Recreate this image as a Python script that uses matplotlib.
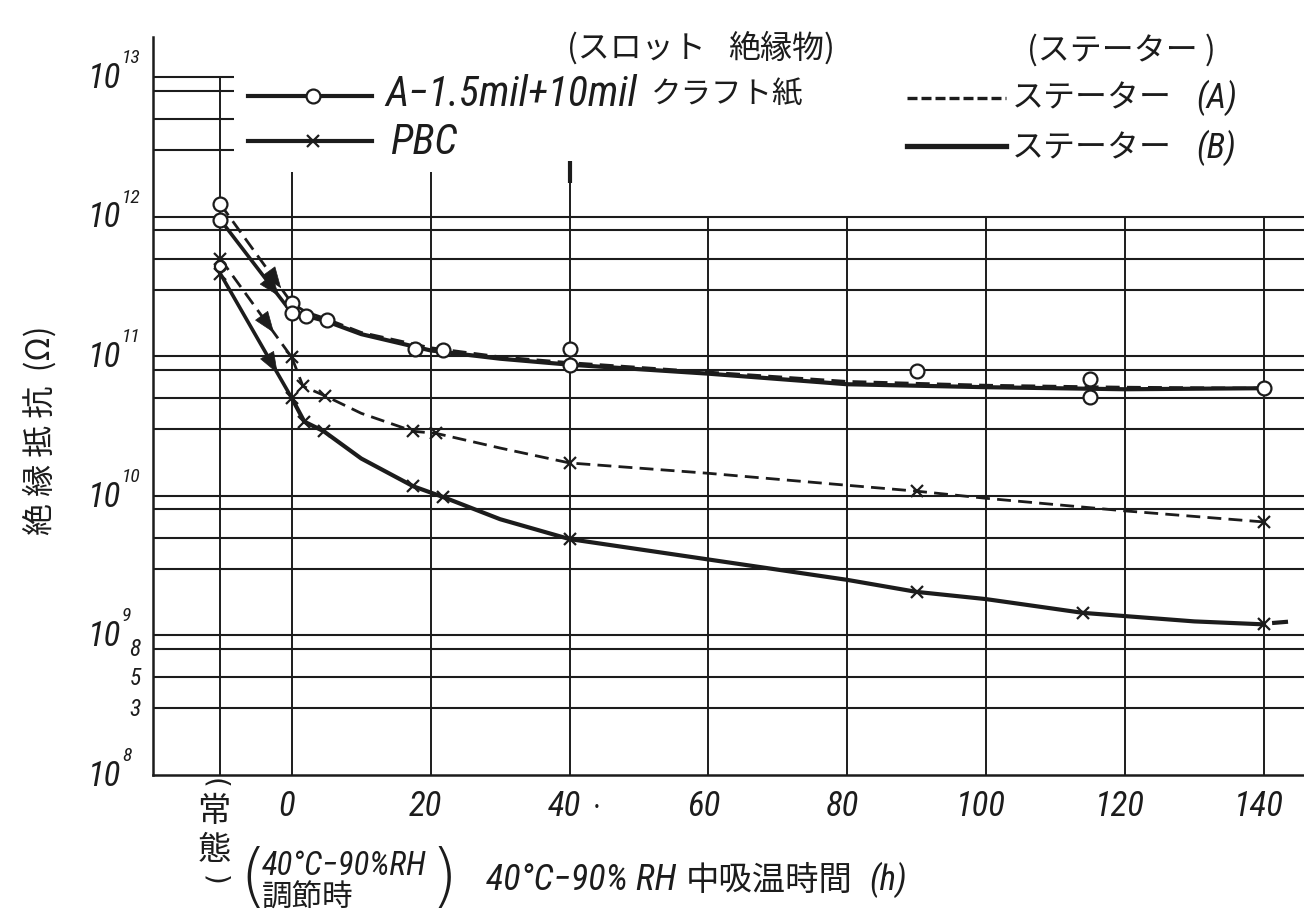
import matplotlib
matplotlib.use('Agg')
import matplotlib.pyplot as plt
from matplotlib.lines import Line2D
from matplotlib.ticker import NullLocator
from matplotlib import font_manager as fm
import numpy as np

# ---------------- data ----------------
# hours axis position of the "常態" (normal state) column
x_normal = -10.3

# A-1.5mil+10mil kraft paper (circles)
normal_circ_A = 1.23e12
normal_circ_B = 9.5e11
normal_circ_extra = 4.4e11

circ_A_h = [0, 5, 21.8, 40, 90, 115]
circ_A_R = [2.4e11, 1.82e11, 1.10e11, 1.12e11, 7.9e10, 6.9e10]
circ_B_h = [0, 2, 17.7, 40, 115, 140]
circ_B_R = [2.04e11, 1.95e11, 1.12e11, 8.7e10, 5.1e10, 5.9e10]

circ_A_curve_h = [0, 2, 5, 10, 20, 30, 40, 60, 80, 100, 120, 140]
circ_A_curve_R = [2.4e11, 2.08e11, 1.85e11, 1.48e11, 1.15e11, 9.9e10, 9.0e10,
                  7.7e10, 6.6e10, 6.2e10, 6.0e10, 5.9e10]
circ_B_curve_h = [0, 2, 5, 10, 20, 30, 40, 60, 80, 100, 120, 140]
circ_B_curve_R = [2.04e11, 1.95e11, 1.78e11, 1.44e11, 1.10e11, 9.6e10, 8.7e10,
                  7.5e10, 6.3e10, 6.0e10, 5.8e10, 5.9e10]

# PBC (crosses)
normal_cross_A = 5.0e11
normal_cross_B = 3.9e11

cross_A_h = [0, 1.6, 4.8, 17.5, 20.8, 40, 90, 140]
cross_A_R = [9.8e10, 6.1e10, 5.2e10, 2.9e10, 2.8e10, 1.72e10, 1.08e10, 6.5e9]
cross_B_h = [0, 1.8, 4.6, 17.5, 21.8, 40, 90, 114, 140]
cross_B_R = [5.0e10, 3.4e10, 2.9e10, 1.17e10, 9.8e9, 4.9e9, 2.05e9, 1.45e9, 1.2e9]

cross_A_curve_h = [0, 1.6, 4.8, 10, 17.5, 20.8, 30, 40, 60, 80, 90, 100, 120, 140]
cross_A_curve_R = [9.8e10, 6.1e10, 5.2e10, 3.9e10, 2.9e10, 2.8e10, 2.2e10, 1.72e10,
                   1.45e10, 1.19e10, 1.08e10, 9.6e9, 7.8e9, 6.5e9]
cross_B_curve_h = [0, 1.8, 4.6, 10, 17.5, 21.8, 30, 40, 60, 80, 90, 100, 114, 130, 140]
cross_B_curve_R = [5.0e10, 3.4e10, 2.9e10, 1.85e10, 1.17e10, 9.8e9, 6.8e9, 4.9e9,
                   3.5e9, 2.5e9, 2.05e9, 1.82e9, 1.45e9, 1.26e9, 1.2e9]
cross_B_tail_h = [141.5, 143.2]
cross_B_tail_R = [1.23e9, 1.25e9]

# axis labels
x_tick_vals = [0, 20, 40, 60, 80, 100, 120, 140]
x_tick_labels = ['0', '20', '40', '60', '80', '100', '120', '140']
y_decade_vals = [1e13, 1e12, 1e11, 1e10, 1e9, 1e8]
y_decade_exps = ['13', '12', '11', '10', '9', '8']
y_minor_vals = [8e8, 5e8, 3e8]
y_minor_labels = ['8', '5', '3']

# graph-paper rulings
grid_full_R = [3e8, 5e8, 8e8, 1e9, 3e9, 5e9, 8e9, 1e10, 3e10, 5e10, 8e10, 1e11,
               3e11, 5e11, 8e11, 1e12]
grid_short_R = [3e12, 5e12, 8e12, 1e13]
grid_v_x = [x_normal, 0, 20, 40, 60, 80, 100, 120, 140]
grid_v_top = [1e13, 2.1e12, 2.1e12, 2.5e12, 1e12, 1e12, 1e12, 1e12, 1e12]

# ---------------- fonts ----------------
W, H = 1304, 914
JP = 'Noto Sans CJK JP'
names = {f.name for f in fm.fontManager.ttflist}
NUM = 'DejaVu Sans'
for cand in ['Roboto Condensed', 'Liberation Sans Narrow', 'Open Sans Condensed']:
    if cand in names:
        NUM = cand
        break
plt.rcParams['font.family'] = [JP, 'DejaVu Sans']
INK = '#1c1c1c'
NUMF = dict(family=[NUM, 'DejaVu Sans'], style='italic', color=INK)
JPF = dict(family=[JP, 'DejaVu Sans'], color=INK)

fig = plt.figure(figsize=(W / 100, H / 100), dpi=100)
fig.patch.set_facecolor('white')
ax = fig.add_axes([153 / W, 1 - 775 / H, (W - 153) / W, (775 - 37) / H])
ax.set_yscale('log')
XMIN, XMAX = -20, 145.8
ax.set_xlim(XMIN, XMAX)
ax.set_ylim(1e8, 10 ** 13.287)
for s in ['top', 'right']:
    ax.spines[s].set_visible(False)
for s in ['left', 'bottom']:
    ax.spines[s].set_linewidth(1.8)
    ax.spines[s].set_color(INK)
ax.set_xticks([])
ax.set_yticks([])
ax.yaxis.set_minor_locator(NullLocator())
ax.xaxis.set_minor_locator(NullLocator())
ax.patch.set_alpha(0)

# rulings
ax.hlines(grid_full_R, XMIN, XMAX, color=INK, lw=1.5, zorder=1)
ax.hlines(grid_short_R, XMIN, -8.3, color=INK, lw=1.5, zorder=1)
ax.vlines(grid_v_x, 1e8, grid_v_top, color=INK, lw=1.4, zorder=1)
ax.vlines([40], 1.75e12, 2.5e12, color=INK, lw=3.0, zorder=1)

DASH = (0, (5.0, 2.6))
# curves
ax.plot(circ_A_curve_h, circ_A_curve_R, color=INK, lw=2.0, ls=DASH, zorder=3)
ax.plot(circ_B_curve_h, circ_B_curve_R, color=INK, lw=3.0, zorder=3)
ax.plot(cross_A_curve_h, cross_A_curve_R, color=INK, lw=2.0, ls=DASH, zorder=3)
ax.plot(cross_B_curve_h, cross_B_curve_R, color=INK, lw=3.0, zorder=3)
ax.plot(cross_B_tail_h, cross_B_tail_R, color=INK, lw=3.0, zorder=3)


# normal state -> start of humidity exposure, with arrowheads
def drop(y0, x1, y1, dashed, frac):
    ls = DASH if dashed else '-'
    lw = 2.0 if dashed else 2.6
    ax.plot([x_normal, x1], [y0, y1], color=INK, lw=lw, ls=ls, zorder=3)
    l0, l1 = np.log10(y0), np.log10(y1)
    xa = x_normal + (x1 - x_normal) * frac
    ya = 10 ** (l0 + (l1 - l0) * frac)
    xb = x_normal + (x1 - x_normal) * (frac - 0.1)
    yb = 10 ** (l0 + (l1 - l0) * (frac - 0.1))
    ax.annotate('', xy=(xa, ya), xytext=(xb, yb),
                arrowprops=dict(arrowstyle='-|>,head_length=0.8,head_width=0.3',
                                color=INK, lw=0.5, shrinkA=0, shrinkB=0,
                                mutation_scale=18), zorder=4)


drop(normal_circ_A, circ_A_curve_h[0], circ_A_curve_R[0], True, 0.85)
drop(normal_circ_B, circ_B_curve_h[0], circ_B_curve_R[0], False, 0.82)
drop(normal_cross_A, cross_A_curve_h[0], cross_A_curve_R[0], True, 0.75)
drop(normal_cross_B, cross_B_curve_h[0], cross_B_curve_R[0], False, 0.8)

# markers
CIRC = dict(marker='o', ls='none', ms=10, mfc='white', mec=INK, mew=1.6, zorder=5)
CROSS = dict(marker='x', ls='none', ms=8, mec=INK, mew=1.6, zorder=5)
ax.plot([x_normal, x_normal], [normal_circ_A, normal_circ_B], **CIRC)
ax.plot([x_normal], [normal_circ_extra], **dict(CIRC, ms=8))
ax.plot(circ_A_h, circ_A_R, **CIRC)
ax.plot(circ_B_h, circ_B_R, **CIRC)
ax.plot([x_normal, x_normal], [normal_cross_A, normal_cross_B], **CROSS)
ax.plot(cross_A_h, cross_A_R, **CROSS)
ax.plot(cross_B_h, cross_B_R, **CROSS)


# helpers in figure pixels (from top-left)
def fx(px):
    return px / W


def fy(py):
    return 1 - py / H


def ypix(v):
    return H - ax.transData.transform((0, v))[1]


def xpix(v):
    return ax.transData.transform((v, 1e9))[0]


renderer = fig.canvas.get_renderer()


def chain(x0, y, parts):
    """place a run of texts left to right; parts = (text, props, gap_before)"""
    x = x0
    for s, props, gap in parts:
        x += gap
        t = fig.text(fx(x), fy(y), s, ha='left', va='center', **props)
        bb = t.get_window_extent(renderer)
        x = bb.x1
    return x


# y labels
for v, e in zip(y_decade_vals, y_decade_exps):
    yp = ypix(v)
    fig.text(fx(121), fy(yp + 1), '10', ha='right', va='center', fontsize=25, **NUMF)
    fig.text(fx(122), fy(yp - 19), e, ha='left', va='center', fontsize=14, **NUMF)
for v, lab in zip(y_minor_vals, y_minor_labels):
    fig.text(fx(141), fy(ypix(v) + 1), lab, ha='right', va='center', fontsize=17, **NUMF)

# x tick labels
for v, lab in zip(x_tick_vals, x_tick_labels):
    fig.text(fx(xpix(v) - 5), fy(806), lab, ha='center', va='center', fontsize=25, **NUMF)

# (常態) written vertically
xn = 214
fig.text(fx(xn), fy(783), '(', rotation=-90, ha='center', va='center', fontsize=20,
         family='DejaVu Sans', color=INK)
fig.text(fx(xn), fy(811), '常', ha='center', va='center', fontsize=24, **JPF)
fig.text(fx(xn), fy(850), '態', ha='center', va='center', fontsize=24, **JPF)
fig.text(fx(xn), fy(880), ')', rotation=-90, ha='center', va='center', fontsize=20,
         family='DejaVu Sans', color=INK)

# (40°C-90%RH 調節時)
fig.text(fx(253), fy(880), '(', ha='center', va='center', fontsize=50,
         family='DejaVu Sans', fontweight='light', color=INK)
fig.text(fx(444), fy(880), ')', ha='center', va='center', fontsize=50,
         family='DejaVu Sans', fontweight='light', color=INK)
fig.text(fx(262), fy(866), '40°C−90%RH', ha='left', va='center', fontsize=23.5, **NUMF)
fig.text(fx(262), fy(898), '調節時', ha='left', va='center', fontsize=22, **JPF)

# x label
chain(486, 880, [('40°C−90% RH', dict(fontsize=26, **NUMF), 0),
                 ('中吸温時間', dict(fontsize=24, **JPF), 10),
                 ('(h)', dict(fontsize=25, **NUMF), 16)])
fig.text(fx(597), fy(808), '·', ha='center', va='center', fontsize=18, color=INK)

# y label
fig.text(fx(40), fy(430), '絶 縁 抵 抗  (Ω)', rotation=90, ha='center', va='center',
         fontsize=23, **JPF)

# headings
chain(567, 48, [('(スロット', dict(fontsize=23, **JPF), 0),
                ('絶縁物)', dict(fontsize=23, **JPF), 22)])
fig.text(fx(1121), fy(50), '(ステーター )', ha='center', va='center', fontsize=23, **JPF)

# legend (left)
fig.add_artist(Line2D([fx(248), fx(372)], [fy(96), fy(96)], color=INK, lw=3.0))
fig.add_artist(Line2D([fx(313)], [fy(96)], marker='o', ms=10, mfc='white', mec=INK, mew=1.6))
chain(385, 95, [('A−1.5mil+10mil', dict(fontsize=30, **NUMF), 0),
                ('クラフト紙', dict(fontsize=22, **JPF), 14)])
fig.add_artist(Line2D([fx(248), fx(372)], [fy(141), fy(141)], color=INK, lw=3.0))
fig.add_artist(Line2D([fx(313)], [fy(141)], marker='x', ms=8, mec=INK, mew=1.6))
fig.text(fx(390), fy(142), 'PBC', ha='left', va='center', fontsize=30, **NUMF)

# legend (right)
fig.add_artist(Line2D([fx(907), fx(1006)], [fy(98), fy(98)], color=INK, lw=2.4,
                      ls=(0, (3.0, 1.2))))
chain(1012, 98, [('ステーター', dict(fontsize=23, **JPF), 0),
                 ('(A)', dict(fontsize=25, **NUMF), 24)])
fig.add_artist(Line2D([fx(907), fx(1006)], [fy(146), fy(146)], color=INK, lw=3.8))
chain(1012, 148, [('ステーター', dict(fontsize=23, **JPF), 0),
                  ('(B)', dict(fontsize=25, **NUMF), 24)])

fig.savefig('out.png', dpi=100, facecolor='white')
